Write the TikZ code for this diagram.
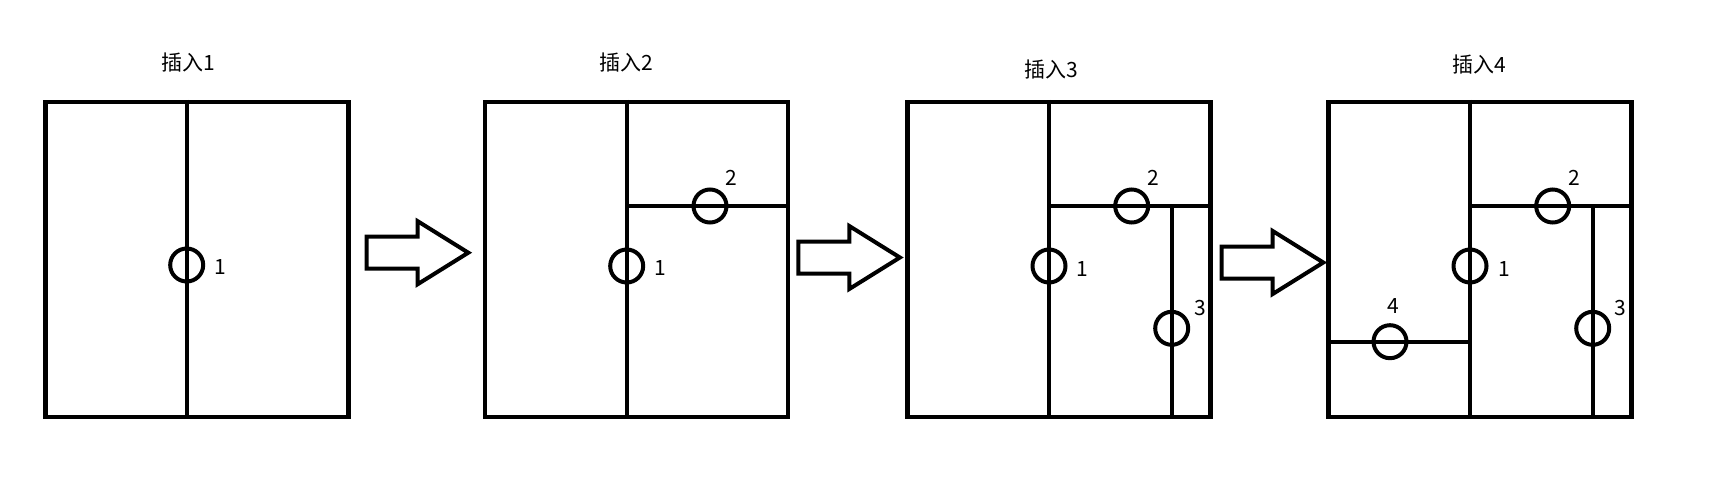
\documentclass[tikz,border=0pt]{standalone}
\usepackage{fontspec}
\setmainfont{Noto Sans CJK SC}
\tikzset{
  panel/.style={draw, line width=4.3pt, minimum width=303pt, minimum height=315pt, inner sep=0pt},
  part/.style={line width=4.3pt},
  ring/.style={draw, circle, line width=4pt, minimum size=33pt, inner sep=0pt},
  num/.style={font=\fontsize{21}{25}\selectfont, inner sep=0pt},
  push/.style={draw, line width=4pt, line join=miter},
}
\begin{document}
\begin{tikzpicture}[x=1pt, y=-1pt]
  \useasboundingbox (0,0) rectangle (1727,496);
  % panels and titles
  \foreach \n/\cx/\tx/\ty in {1/196.9/188/63, 2/636.7/626.7/63, 3/1059/1051.7/70, 4/1480/1479.3/65} {
    \node[panel] (box\n) at (\cx,259.4) {};
    \node[num] (title\n) at (\tx,\ty) {插入\n};
  }
  % block arrows between panels
  \foreach \x/\y in {366.7/252.7, 798.3/257.5, 1221.7/262.5}
    \draw[push, shift={(\x,\y)}] (0,-16) -- (51,-16) -- (51,-31.5) -- (101.6,0)
      -- (51,31.5) -- (51,16) -- (0,16) -- cycle;

  % panel 1
  \node[ring] (a1) at (186.7,265) {};
  \draw[part] (box1.north -| a1) -- (box1.south -| a1);
  \node[num] at (220.7,267) {1};

  % panel 2
  \node[ring] (b1) at (626.7,266) {};
  \node[ring] (b2) at (710,206) {};
  \draw[part] (box2.north -| b1) -- (box2.south -| b1);
  \draw[part] (b1 |- b2) -- (b2 -| box2.east);
  \node[num] at (660,268) {1};
  \node[num] at (731.7,178.3) {2};

  % panel 3
  \node[ring] (c1) at (1049,266) {};
  \node[ring] (c2) at (1131.7,206) {};
  \node[ring] (c3) at (1171.7,328.3) {};
  \draw[part] (box3.north -| c1) -- (box3.south -| c1);
  \draw[part] (c1 |- c2) -- (c2 -| box3.east);
  \draw[part] (c3 |- c2) -- (c3 |- box3.south);
  \node[num] at (1082.7,269) {1};
  \node[num] at (1153.3,178.3) {2};
  \node[num] at (1200,308.3) {3};

  % panel 4
  \node[ring] (d1) at (1470,266) {};
  \node[ring] (d2) at (1552.7,206) {};
  \node[ring] (d3) at (1592.7,328.3) {};
  \node[ring] (d4) at (1390,341.7) {};
  \draw[part] (box4.north -| d1) -- (box4.south -| d1);
  \draw[part] (d1 |- d2) -- (d2 -| box4.east);
  \draw[part] (d3 |- d2) -- (d3 |- box4.south);
  \draw[part] (box4.west |- d4) -- (d1 |- d4);
  \node[num] at (1504,269) {1};
  \node[num] at (1574,178.3) {2};
  \node[num] at (1620.7,308.3) {3};
  \node[num] at (1393.3,306) {4};
\end{tikzpicture}
\end{document}
